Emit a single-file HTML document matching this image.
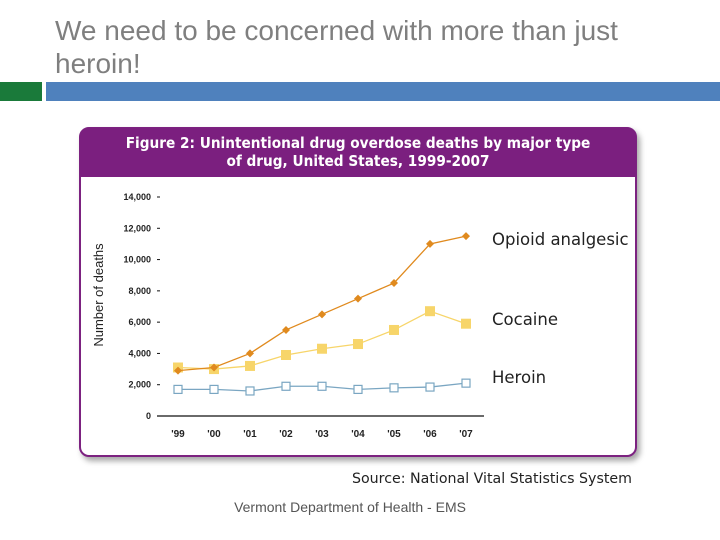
<!DOCTYPE html>
<html><head><meta charset="utf-8"><style>
body{margin:0;width:720px;height:540px;overflow:hidden;background:#fff;font-family:"Liberation Sans",sans-serif;position:relative}
.t{position:absolute;left:55px;top:14px;font-size:28px;line-height:33px;color:#7f7f7f;width:660px}
</style></head><body>
<div class="t">We need to be concerned with more than just<br>heroin!</div>
<div style="position:absolute;left:0;top:82px;width:42px;height:19px;background:#1a7a3a"></div>
<div style="position:absolute;left:46px;top:82px;width:674px;height:19px;background:#4f81bd"></div>
<svg id="c" width="720" height="540" style="position:absolute;left:0;top:0">
<defs><filter id="sh" x="-5%" y="-5%" width="115%" height="115%"><feDropShadow dx="3" dy="4" stdDeviation="3" flood-color="#000" flood-opacity="0.35"/></filter></defs>
<rect x="80" y="128" width="556" height="328" rx="9" fill="#fff" stroke="#7b2080" stroke-width="2" filter="url(#sh)"/>
<path d="M80,177 V137 a9,9 0 0 1 9,-9 H627 a9,9 0 0 1 9,9 V177 Z" fill="#7b1f7f"/>
<text x="358" y="148" text-anchor="middle" font-family="DejaVu Sans Condensed, DejaVu Sans, sans-serif" font-weight="bold" font-size="15.2" fill="#fff">Figure 2: Unintentional drug overdose deaths by major type</text>
<text x="358" y="166" text-anchor="middle" font-family="DejaVu Sans Condensed, DejaVu Sans, sans-serif" font-weight="bold" font-size="15.2" fill="#fff">of drug, United States, 1999-2007</text>
<text transform="translate(103,295) rotate(-90)" text-anchor="middle" font-size="13" fill="#222">Number of deaths</text>
<text x="352" y="483" font-family="DejaVu Sans, sans-serif" font-size="14.2" fill="#222">Source: National Vital Statistics System</text>
<text x="350" y="512" text-anchor="middle" font-size="14" fill="#555">Vermont Department of Health - EMS</text>
<g id="g"></g>
</svg>
<script>
const years=["'99","'00","'01","'02","'03","'04","'05","'06","'07"];
const opioid=[2900,3100,4000,5500,6500,7500,8500,11000,11500];
const cocaine=[3100,3000,3200,3900,4300,4600,5500,6700,5900];
const heroin=[1700,1700,1600,1900,1900,1700,1800,1850,2100];
const yTicks=[0,2000,4000,6000,8000,10000,12000,14000];
const yTickLabels=["0","2,000","4,000","6,000","8,000","10,000","12,000","14,000"];
const NS="http://www.w3.org/2000/svg",g=document.getElementById('g');
const xs=i=>178+i*36,ys=v=>416-v*219/14000;
function mk(t,a){const e=document.createElementNS(NS,t);for(const k in a)e.setAttribute(k,a[k]);g.appendChild(e);return e;}
let e=mk('line',{x1:157,x2:484,y1:416,y2:416,stroke:'#111','stroke-width':1.2});


yTicks.forEach((v,i)=>{
 let t=mk('line',{x1:157,x2:160,y1:ys(v),y2:ys(v),stroke:'#111'});
 
 
 let l=mk('text',{x:151,y:ys(v)+3,'text-anchor':'end','font-size':9,'font-weight':'bold',fill:'#222'});l.textContent=yTickLabels[i];
 
 
});
years.forEach((y,i)=>{
 let l=mk('text',{x:xs(i),y:437,'text-anchor':'middle','font-size':10,'font-weight':'bold',fill:'#222'});l.textContent=y;
 
 
});
function series(d,col,name,kind){
 let p=mk('polyline',{points:d.map((v,i)=>xs(i)+','+ys(v)).join(' '),fill:'none',stroke:col,'stroke-width':1.3});
 
 
 d.forEach((v,i)=>{let m;
  if(kind==='d')m=mk('path',{d:`M${xs(i)},${ys(v)-4}l4,4l-4,4l-4,-4z`,fill:col});
  else if(kind==='s')m=mk('rect',{x:xs(i)-5,y:ys(v)-5,width:10,height:10,fill:col});
  else m=mk('rect',{x:xs(i)-4,y:ys(v)-4,width:8,height:8,fill:'#fff',stroke:col,'stroke-width':1.2});
  
  
 });
}
series(heroin,'#7aa6c2','heroin','o');
series(cocaine,'#f7d56a','cocaine','s');
series(opioid,'#e08a1e','opioid','d');
[["Opioid analgesic",245,'legend-opioid'],["Cocaine",325,'legend-cocaine'],["Heroin",383,'legend-heroin']].forEach(a=>{
 let l=mk('text',{x:492,y:a[1],'font-family':'DejaVu Sans, sans-serif','font-size':16.5,fill:'#222'});l.textContent=a[0];
 
 
});
</script>
</body></html>
